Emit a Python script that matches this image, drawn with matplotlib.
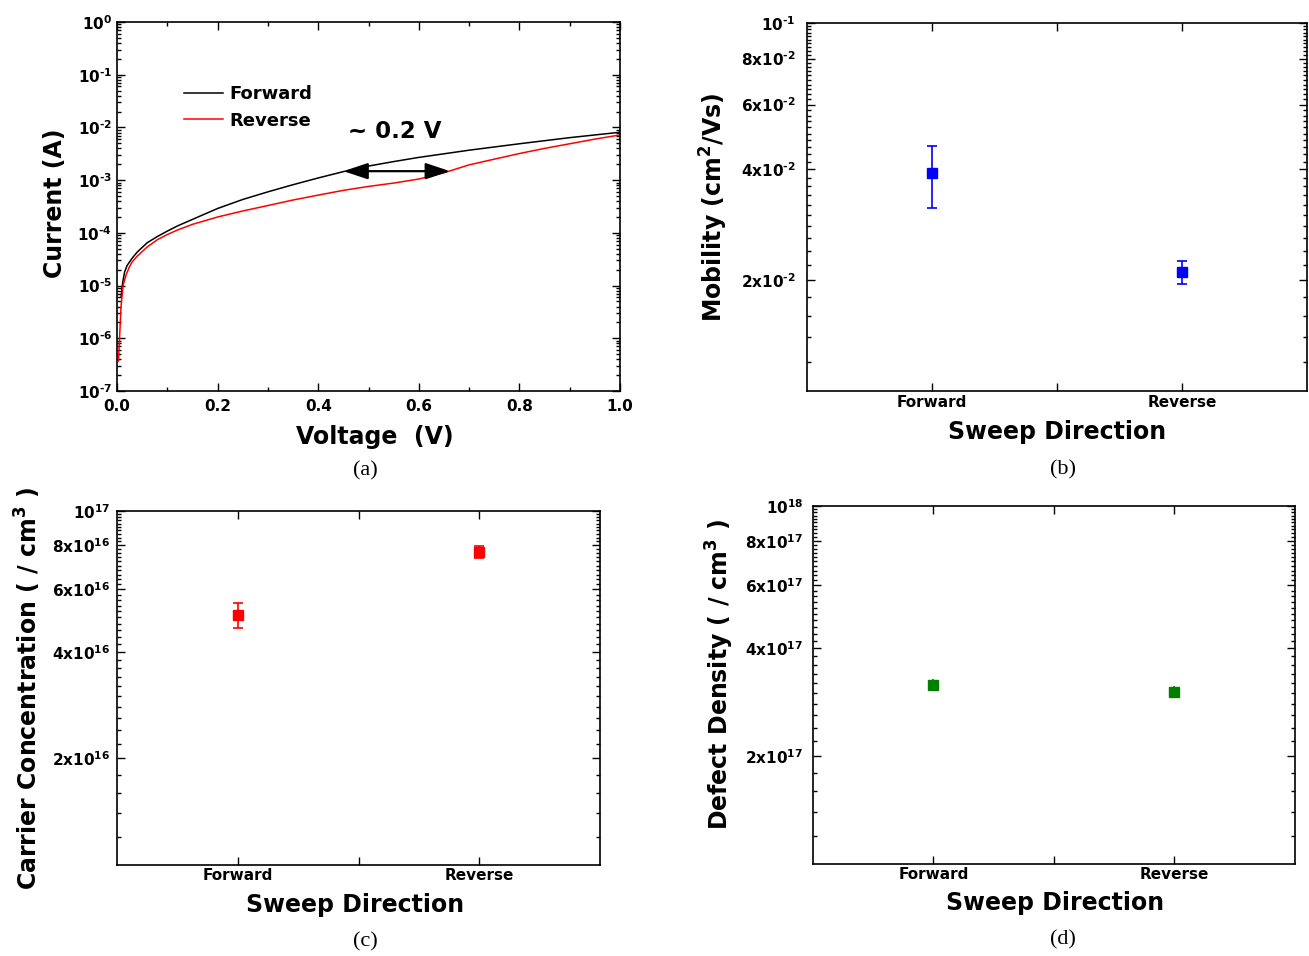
import math
import matplotlib
matplotlib.use("Agg")
import matplotlib.pyplot as plt
from matplotlib.ticker import FixedLocator, FixedFormatter, NullFormatter, MultipleLocator, LogLocator

plt.rcParams["font.family"] = "DejaVu Sans"
plt.rcParams["font.weight"] = "bold"
plt.rcParams["axes.labelweight"] = "bold"
plt.rcParams["mathtext.fontset"] = "custom"
plt.rcParams["mathtext.rm"] = "DejaVu Sans"
plt.rcParams["mathtext.bf"] = "DejaVu Sans:bold"
plt.rcParams["axes.linewidth"] = 1.2

# ---- (a) I-V curves, forward and reverse sweep ----
v_fwd = [0.008, 0.011, 0.015, 0.02, 0.03, 0.04, 0.06, 0.08, 0.1, 0.12, 0.15, 0.2, 0.25, 0.3,
         0.35, 0.4, 0.45, 0.5, 0.55, 0.6, 0.7, 0.8, 0.9, 1.0]
i_fwd = [6e-6, 1.1e-5, 1.8e-5, 2.4e-5, 3.3e-5, 4.3e-5, 6.5e-5, 8.5e-5, 1.08e-4, 1.35e-4, 1.8e-4,
         2.9e-4, 4.3e-4, 6.0e-4, 8.2e-4, 1.1e-3, 1.45e-3, 1.85e-3, 2.25e-3, 2.7e-3, 3.7e-3,
         4.9e-3, 6.4e-3, 8.1e-3]
v_rev = [0.003, 0.005, 0.008, 0.012, 0.018, 0.025, 0.03, 0.04, 0.06, 0.08, 0.1, 0.12, 0.15, 0.2,
         0.25, 0.3, 0.35, 0.4, 0.45, 0.5, 0.55, 0.6, 0.65, 0.7, 0.75, 0.8, 0.85, 0.9, 0.95, 1.0]
i_rev = [3.7e-7, 1.0e-6, 4e-6, 1.0e-5, 1.6e-5, 2.3e-5, 2.8e-5, 3.6e-5, 5.4e-5, 7.4e-5, 9.3e-5,
         1.13e-4, 1.45e-4, 2.0e-4, 2.6e-4, 3.3e-4, 4.2e-4, 5.2e-4, 6.4e-4, 7.6e-4, 8.8e-4,
         1.05e-3, 1.38e-3, 1.95e-3, 2.5e-3, 3.2e-3, 4.0e-3, 4.9e-3, 6.0e-3, 7.2e-3]
arrow_v = [0.45, 0.662]
arrow_i = 1.48e-3
shift_text = "~ 0.2 V"

# ---- (b)-(d) sweep direction comparison ----
directions = ["Forward", "Reverse"]
mobility = [0.039, 0.021]
mobility_lo = [0.0315, 0.0195]
mobility_hi = [0.0464, 0.0225]
carrier = [5.08e16, 7.64e16]
carrier_lo = [4.68e16, 7.34e16]
carrier_hi = [5.48e16, 7.95e16]
defect = [3.17e17, 3.03e17]
defect_lo = [3.06e17, 2.93e17]
defect_hi = [3.28e17, 3.14e17]

mob_labels = ["2x10$^{\\text{-2}}$", "4x10$^{\\text{-2}}$", "6x10$^{\\text{-2}}$",
              "8x10$^{\\text{-2}}$", "10$^{\\text{-1}}$"]
car_labels = ["2x10$^{16}$", "4x10$^{16}$", "6x10$^{16}$", "8x10$^{16}$", "10$^{17}$"]
def_labels = ["2x10$^{17}$", "4x10$^{17}$", "6x10$^{17}$", "8x10$^{17}$", "10$^{18}$"]


def style_ticks(ax, ypad, xpad):
    ax.tick_params(which="both", direction="in", top=True, right=True, width=1.0)
    ax.tick_params(which="major", length=5.5, labelsize=11)
    ax.tick_params(which="minor", length=3)
    ax.tick_params(axis="y", pad=ypad)
    ax.tick_params(axis="x", pad=xpad)


def decade_axis(ax, base, labels):
    ax.set_yscale("log")
    ax.set_ylim(base, base * 10)
    ax.yaxis.set_major_locator(FixedLocator([base * m for m in (2, 4, 6, 8, 10)]))
    ax.yaxis.set_major_formatter(FixedFormatter(labels))
    minors = [base * m / 10 for m in range(12, 100, 2) if m not in (20, 40, 60, 80)]
    ax.yaxis.set_minor_locator(FixedLocator(minors))
    ax.yaxis.set_minor_formatter(NullFormatter())


def category_axis(ax):
    ax.set_xlim(-0.5, 1.5)
    ax.xaxis.set_major_locator(FixedLocator([0, 0.5, 1]))
    ax.xaxis.set_major_formatter(FixedFormatter([directions[0], "", directions[1]]))
    ax.tick_params(axis="x", labelsize=12.5)


def point_panel(ax, vals, lo, hi, color, capsize=3.5):
    x = list(range(len(directions)))
    yerr = [[v - l for v, l in zip(vals, lo)], [h - v for v, h in zip(vals, hi)]]
    ax.errorbar(x, vals, yerr=yerr, fmt="s", color=color, ms=7, elinewidth=1.2,
                capsize=capsize, capthick=1.2)


def log_label(v, pos):
    exp = int(round(math.log10(v)))
    return f"10$^{{\\text{{{exp}}}}}$"


fig = plt.figure(figsize=(13.09, 9.56), dpi=100)

# (a)
ax_a = fig.add_axes([0.0894, 0.591, 0.3843, 0.386])
ax_a.plot(v_fwd, i_fwd, color="black", lw=1.1, label="Forward")
ax_a.plot(v_rev, i_rev, color="red", lw=1.1, label="Reverse")
ax_a.set_yscale("log")
ax_a.set_xlim(0, 1.0)
ax_a.set_ylim(1e-7, 1e0)
ax_a.xaxis.set_major_locator(MultipleLocator(0.2))
ax_a.xaxis.set_minor_locator(MultipleLocator(0.1))
ax_a.xaxis.set_major_formatter(plt.FuncFormatter(lambda v, p: f"{v:.1f}"))
ax_a.yaxis.set_major_locator(LogLocator(base=10, numticks=20))
ax_a.yaxis.set_minor_locator(LogLocator(base=10, subs=range(2, 10), numticks=20))
ax_a.yaxis.set_minor_formatter(NullFormatter())
ax_a.yaxis.set_major_formatter(plt.FuncFormatter(log_label))
style_ticks(ax_a, 3.5, 6)
ax_a.annotate("", xy=(arrow_v[1], arrow_i), xytext=(arrow_v[0], arrow_i),
              arrowprops=dict(arrowstyle="<|-|>,head_length=0.75,head_width=0.25",
                              mutation_scale=20, lw=1.6, color="black",
                              shrinkA=0, shrinkB=0))
ax_a.text(sum(arrow_v) / 2 - 0.003, arrow_i * 5.6, shift_text, fontsize=16.5,
          ha="center", va="center")
ax_a.legend(frameon=False, loc="upper left", bbox_to_anchor=(0.133, 0.828), fontsize=13,
            handlelength=2.15, handletextpad=0.35, labelspacing=0.45, borderpad=0,
            borderaxespad=0)
ax_a.set_xlabel("Voltage  (V)", fontsize=17, va="center")
ax_a.xaxis.set_label_coords(0.513, -0.125)
ax_a.set_ylabel("Current (A)", fontsize=17, va="center")
ax_a.yaxis.set_label_coords(-0.123, 0.509)

# (b)
ax_b = fig.add_axes([0.6165, 0.591, 0.382, 0.385])
point_panel(ax_b, mobility, mobility_lo, mobility_hi, "#0000ff")
decade_axis(ax_b, 1e-2, mob_labels)
category_axis(ax_b)
style_ticks(ax_b, 8, 3)
ax_b.set_xlabel("Sweep Direction", fontsize=17, va="center")
ax_b.xaxis.set_label_coords(0.5, -0.111)
ax_b.set_ylabel("Mobility (cm$^2$/Vs)", fontsize=17, va="center")
ax_b.yaxis.set_label_coords(-0.186, 0.5)

# (c)
ax_c = fig.add_axes([0.0894, 0.0952, 0.369, 0.3705])
point_panel(ax_c, carrier, carrier_lo, carrier_hi, "#ff0000")
decade_axis(ax_c, 1e16, car_labels)
category_axis(ax_c)
style_ticks(ax_c, 5, 2)
ax_c.set_xlabel("Sweep Direction", fontsize=17, va="center")
ax_c.xaxis.set_label_coords(0.493, -0.113)
ax_c.set_ylabel("Carrier Concentration ( / cm$^3$ )", fontsize=17, va="center")
ax_c.yaxis.set_label_coords(-0.184, 0.5)

# (d)
ax_d = fig.add_axes([0.621, 0.0962, 0.368, 0.3745])
point_panel(ax_d, defect, defect_lo, defect_hi, "#008000", capsize=0)
decade_axis(ax_d, 1e17, def_labels)
category_axis(ax_d)
style_ticks(ax_d, 7, 2)
ax_d.set_xlabel("Sweep Direction", fontsize=17, va="center")
ax_d.xaxis.set_label_coords(0.502, -0.109)
ax_d.set_ylabel("Defect Density ( / cm$^3$ )", fontsize=17, va="center")
ax_d.yaxis.set_label_coords(-0.193, 0.53)

# captions
for cx, cy, cap in [(365, 471, "(a)"), (1063, 470, "(b)"), (365, 942, "(c)"), (1063, 940, "(d)")]:
    fig.text(cx / 1309, 1 - cy / 956, cap, family="Liberation Serif", fontweight="normal",
             fontsize=16, ha="center", va="center")

fig.savefig("out.png", dpi=100)
